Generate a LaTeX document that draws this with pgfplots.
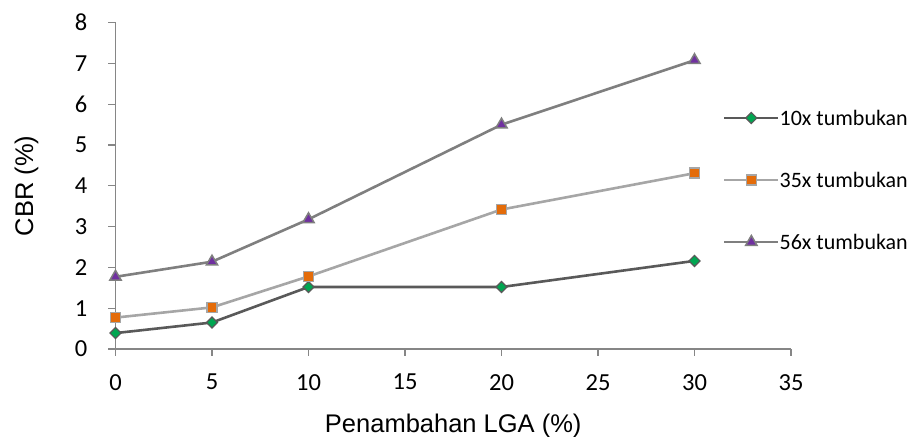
\documentclass[border=0pt]{standalone}
\usepackage{pgfplots}
\pgfplotsset{compat=1.18}
\usepackage{fontspec}
\setmainfont{Carlito}
\newfontfamily\titlefont{Liberation Sans}

\definecolor{axisgray}{RGB}{134,134,134}
\definecolor{lineA}{RGB}{89,89,89}
\definecolor{lineB}{RGB}{166,166,166}
\definecolor{lineC}{RGB}{127,127,127}
\definecolor{markA}{RGB}{0,166,81}
\definecolor{markB}{RGB}{228,108,10}
\definecolor{markC}{RGB}{112,48,160}

\begin{document}
\begin{tikzpicture}
\useasboundingbox (0,0) rectangle (907bp,437bp);
\begin{axis}[
  at={(115.5bp,88bp)}, anchor=south west,
  width=675.5bp, height=326.3bp, scale only axis,
  xmin=0, xmax=35, ymin=0, ymax=8,
  xtick={0,5,...,35}, ytick={0,1,...,8},
  axis x line=bottom, axis y line=left,
  axis line style={axisgray, line width=1.2bp, -},
  tick style={axisgray, line width=1.2bp},
  tick align=outside, major tick length=7bp,
  /pgf/number format/assume math mode=true,
  every tick label/.append style={font=\fontsize{24.5bp}{29bp}\selectfont, text=black},
  xticklabel style={anchor=north, inner sep=0pt, yshift=-18bp},
  yticklabel style={anchor=east, inner sep=0pt, xshift=-21bp},
  xlabel={\titlefont Penambahan LGA (\%)},
  ylabel={\titlefont CBR (\%)},
  xlabel style={at={(axis description cs:0.5,-0.2574)}, anchor=base, font=\fontsize{25.5bp}{30bp}\selectfont},
  ylabel style={at={(axis description cs:-0.1221,0.5)}, anchor=base, font=\fontsize{25.5bp}{30bp}\selectfont},
  clip=false,
  legend cell align=left,
  legend style={at={(0.8994,0.7294)}, anchor=north west, draw=none, fill=none,
    inner sep=0pt, outer sep=0pt, row sep=48bp,
    font=\fontsize{22bp}{26bp}\selectfont,
    nodes={inner sep=0pt, text height=14bp, text depth=0bp},
    /tikz/every even column/.append style={column sep=5bp}},
  legend image code/.code={\draw[mark repeat=2, mark phase=2, #1] plot coordinates {(0bp,0bp) (27bp,0bp) (54bp,0bp)};},
]
% 10 blows
\addplot[lineA, line width=2.6bp, mark=square*, mark size=3.9bp,
  mark options={rotate=45, fill=markA, draw=lineA, line width=1.2bp, solid}]
  coordinates {(0,0.39) (5,0.65) (10,1.52) (20,1.52) (30,2.16)};
\addlegendentry{10x tumbukan}
% 35 blows
\addplot[lineB, line width=2.6bp, mark=square*, mark size=5bp,
  mark options={fill=markB, draw=lineB, line width=1.5bp, solid}]
  coordinates {(0,0.77) (5,1.02) (10,1.78) (20,3.42) (30,4.31)};
\addlegendentry{35x tumbukan}
% 56 blows
\addplot[lineC, line width=2.6bp, mark=triangle*, mark size=6.5bp,
  mark options={fill=markC, draw=lineC, line width=1.5bp, solid}]
  coordinates {(0,1.77) (5,2.14) (10,3.18) (20,5.5) (30,7.08)};
\addlegendentry{56x tumbukan}
\end{axis}
\end{tikzpicture}
\end{document}
